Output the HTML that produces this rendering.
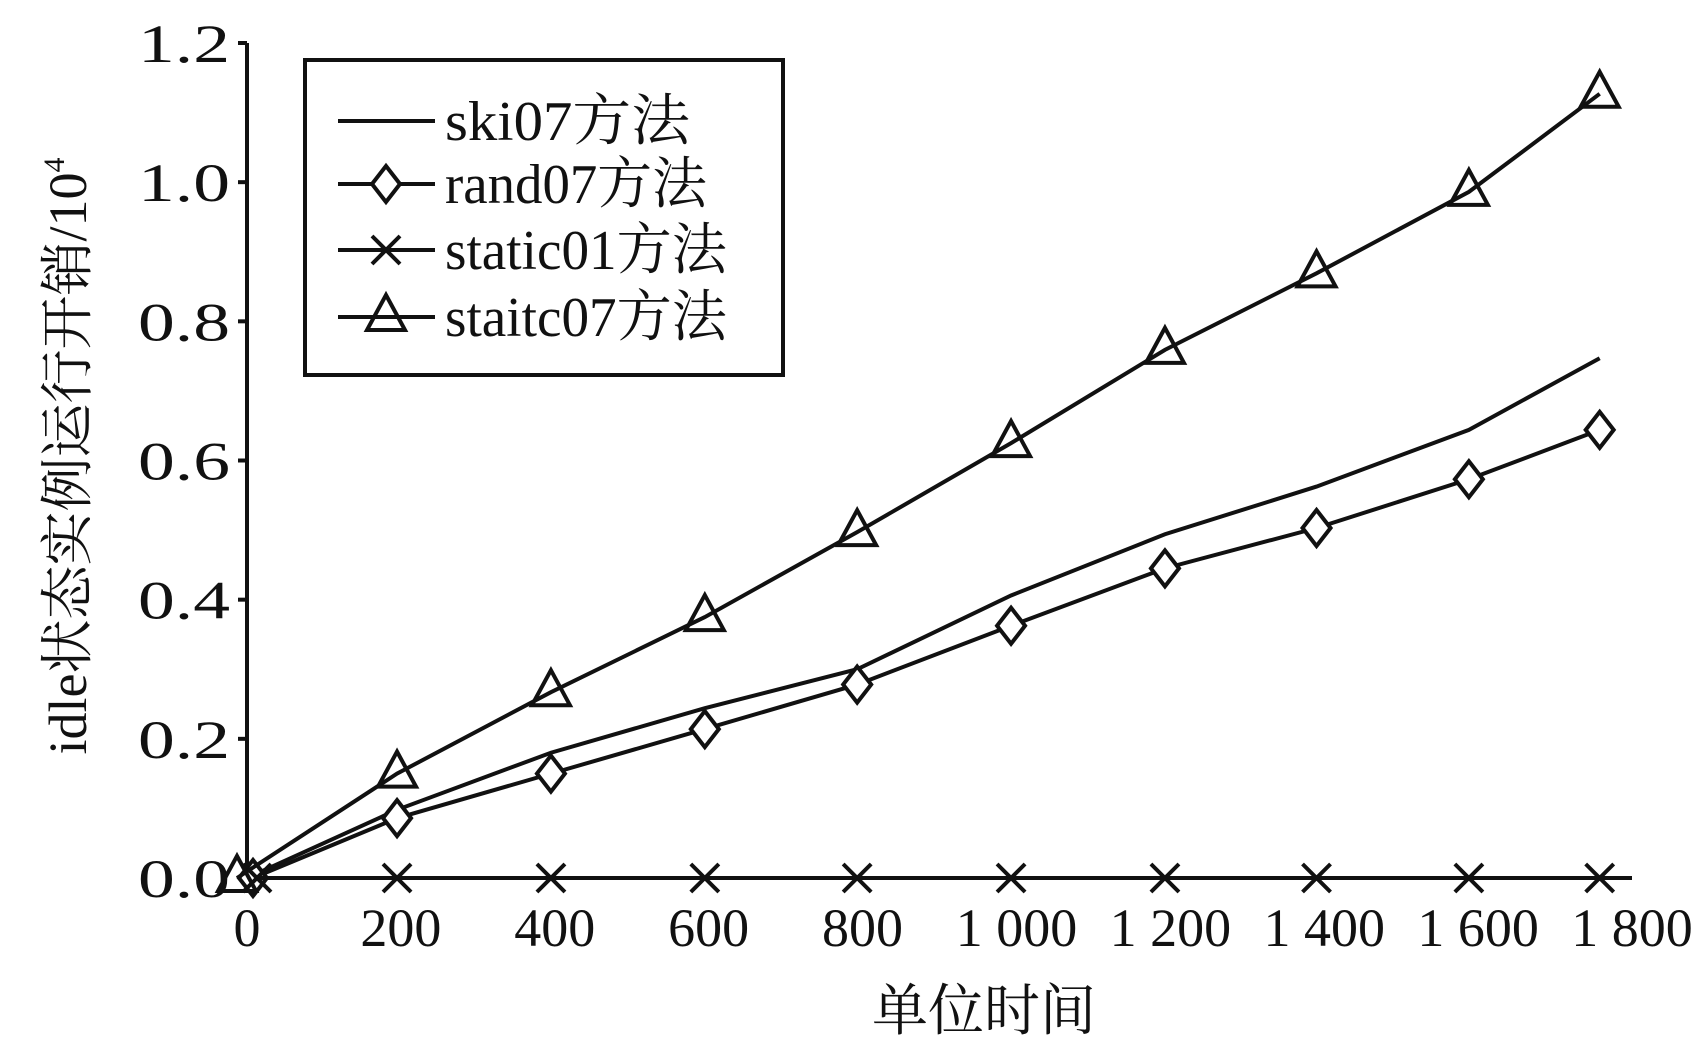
<!DOCTYPE html>
<html><head><meta charset="utf-8"><style>
html,body{margin:0;padding:0;background:#fff;}
svg{display:block;}
text{font-family:"Liberation Serif","Noto Serif CJK SC","Noto Sans CJK SC",serif;fill:#111;}
</style></head><body>
<svg id="chart" width="1701" height="1049" viewBox="0 0 1701 1049" xmlns="http://www.w3.org/2000/svg">
<g id="axes"></g>
<g id="series"></g>
<g id="legend">
  <rect x="305" y="60" width="478" height="315" fill="#fff" stroke="#111" stroke-width="4"/>
</g>
<text x="984" y="1030" font-size="56" text-anchor="middle">单位时间</text>
<text transform="translate(86,456) rotate(-90)" font-size="54" text-anchor="middle">idle状态实例运行开销/10<tspan font-size="30" dy="-22">4</tspan></text>
</svg>
<script>
const xValues=[0,195,395,595,793,993,1193,1390,1588,1758];
const ski07=[0,0.098,0.18,0.244,0.30,0.406,0.494,0.5625,0.644,0.747];
const rand07=[0,0.086,0.15,0.214,0.278,0.3625,0.445,0.503,0.573,0.644];
const static01=[0,0,0,0,0,0,0,0,0,0];
const staitc07=[0,0.15,0.267,0.375,0.497,0.625,0.759,0.869,0.986,1.127];
const xTicks=[0,200,400,600,800,1000,1200,1400,1600,1800];
const xTickLabels=["0","200","400","600","800","1 000","1 200","1 400","1 600","1 800"];
const yTicks=[0,0.2,0.4,0.6,0.8,1.0,1.2];
const yTickLabels=["0.0","0.2","0.4","0.6","0.8","1.0","1.2"];
const legendLabels=["ski07方法","rand07方法","static01方法","staitc07方法"];

const NS="http://www.w3.org/2000/svg";
const X=v=>247+v*(1632-247)/1800;
const Y=v=>878-v*(878-43)/1.2;
function mk(tag,attrs,parent){const e=document.createElementNS(NS,tag);for(const k in attrs)e.setAttribute(k,attrs[k]);parent.appendChild(e);return e;}
const axes=document.getElementById('axes'),series=document.getElementById('series'),legend=document.getElementById('legend');
const A={stroke:"#111","stroke-width":4,fill:"none"};
let l=mk('line',Object.assign({x1:X(0),y1:Y(1.2),x2:X(0),y2:Y(0)},A),axes);


l=mk('line',Object.assign({x1:X(0),y1:Y(0),x2:X(1800),y2:Y(0)},A),axes);


yTicks.forEach((t,i)=>{
  const tk=mk('line',Object.assign({x1:X(0)-9,y1:Y(t),x2:X(0),y2:Y(t)},A),axes);
  
  
  const tx=mk('text',{x:X(0)-17,y:Y(t)+19,"font-size":54,"text-anchor":"end",textLength:92,lengthAdjust:"spacingAndGlyphs"},axes);
  tx.textContent=yTickLabels[i];
  
  
});
xTicks.forEach((t,i)=>{
  const tx=mk('text',{x:X(t),y:946,"font-size":54,"text-anchor":"middle"},axes);
  tx.textContent=xTickLabels[i];
  
  
});
function marker(type,cx,cy,g){
  let m;
  if(type==='diamond'){m=mk('path',Object.assign({d:`M${cx} ${cy-18}L${cx+14} ${cy}L${cx} ${cy+18}L${cx-14} ${cy}Z`},A,{fill:"#fff"}),g);}
  else if(type==='cross'){m=mk('path',Object.assign({d:`M${cx-14} ${cy-14}L${cx+14} ${cy+14}M${cx+14} ${cy-14}L${cx-14} ${cy+14}`},A),g);}
  else if(type==='triangle'){m=mk('path',Object.assign({d:`M${cx} ${cy-22}L${cx+19} ${cy+13}L${cx-19} ${cy+13}Z`},A,{fill:"none"}),g);}
  return m;
}
const allSeries=[[ski07,null,'ski07',0],[rand07,'diamond','rand07',6],[static01,'cross','static01',10],[staitc07,'triangle','staitc07',-10]];
allSeries.forEach(([vals,mt,nm,off])=>{
  const g=mk('g',{},series);
  
  
  const pts=vals.map((v,i)=>[X(xValues[i])+(i===0?off:0),Y(v)]);
  const p=mk('polyline',Object.assign({points:pts.map(q=>q.join(',')).join(' ')},A),g);
  
  
  if(mt)pts.forEach(q=>{const m=marker(mt,q[0],q[1],g);
    
    });
});
const legY=[121,184,250,317],legTypes=[null,'diamond','cross','triangle'],legW=[245,262,282,282];
legendLabels.forEach((lab,i)=>{
  const g=mk('g',{},legend);
  
  
  mk('line',Object.assign({x1:338,y1:legY[i],x2:435,y2:legY[i]},A),g);
  if(legTypes[i])marker(legTypes[i],386,legY[i],g);
  const t=mk('text',{x:445,y:legY[i]+19,"font-size":56,textLength:legW[i],lengthAdjust:"spacingAndGlyphs"},g);
  t.textContent=lab;
  
  
});
</script>
</body></html>
